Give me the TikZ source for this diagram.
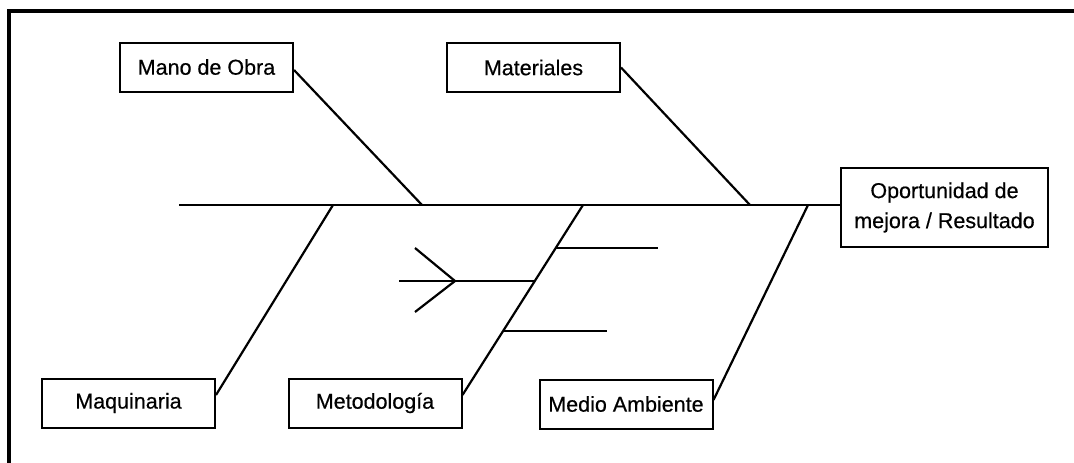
\documentclass[tikz,border=0pt]{standalone}
\usepackage{fontspec}
\setmainfont{Liberation Sans}
\newfontfamily\boxfont{Liberation Sans}[FakeBold=0.5]
\usetikzlibrary{calc}
\begin{document}
\begin{tikzpicture}[x=1pt,y=-1pt,
  cause/.style={draw,line width=2pt,minimum width=173pt,minimum height=49pt,
    inner sep=0pt,font=\boxfont\fontsize{21.5}{26}\selectfont},
  effect/.style={draw,line width=2pt,minimum width=207pt,minimum height=79pt,
    inner sep=0pt,align=center,font=\boxfont\fontsize{21.5}{30}\selectfont},
  bone/.style={line width=2.2pt}]
\useasboundingbox (0,0) rectangle (1074,463);
% page frame
\draw[line width=3.5pt] (9,480) -- (9,11) -- (1090,11);

% boxes
\node[cause] (mano) at (206.5,67) {Mano de Obra};
\node[cause] (mat)  at (533.5,67.5) {Materiales};
\node[cause] (maq)  at (128.5,403) {Maquinaria};
\node[cause] (met)  at (375,403) {Metodología};
\node[cause] (med)  at (626,404) {Medio Ambiente};
\node[effect] (res) at (944.5,207.5) {Oportunidad de\\mejora / Resultado};

% spine
\coordinate (tail) at (179,205);
\draw[bone] (tail) -- (tail -| res.west);

% points where the main bones meet the spine
\coordinate (jmano) at (422,205);
\coordinate (jmat)  at (750,205);
\coordinate (jmaq)  at (333,205);
\coordinate (jmet)  at (583,205);
\coordinate (jmed)  at (808,205);

\draw[bone] ($(mano.east)+(0,3)$) -- (jmano);
\draw[bone] (mat.east) -- (jmat);
\draw[bone] ($(maq.east)+(0,-8)$) -- (jmaq);
\draw[bone] ($(met.east)+(0,-8)$) -- (jmet);
\draw[bone] ($(med.east)+(0,-4)$) -- (jmed);

% minor bones on the Metodología branch
\coordinate (s1) at (556,248);
\coordinate (e1) at (658,248);
\coordinate (s2) at (535,281);
\coordinate (e2) at (399,281);
\coordinate (s3) at (503,331);
\coordinate (e3) at (607,331);
\draw[bone] (s1) -- (e1);
\draw[bone] (s2) -- (e2);
\draw[bone] (s3) -- (e3);

% open arrowhead on the middle bone
\coordinate (apex) at (455,281);
\coordinate (armA) at (415,248);
\coordinate (armB) at (415,312);
\draw[bone,line join=miter] (armA) -- (apex) -- (armB);
\end{tikzpicture}
\end{document}
